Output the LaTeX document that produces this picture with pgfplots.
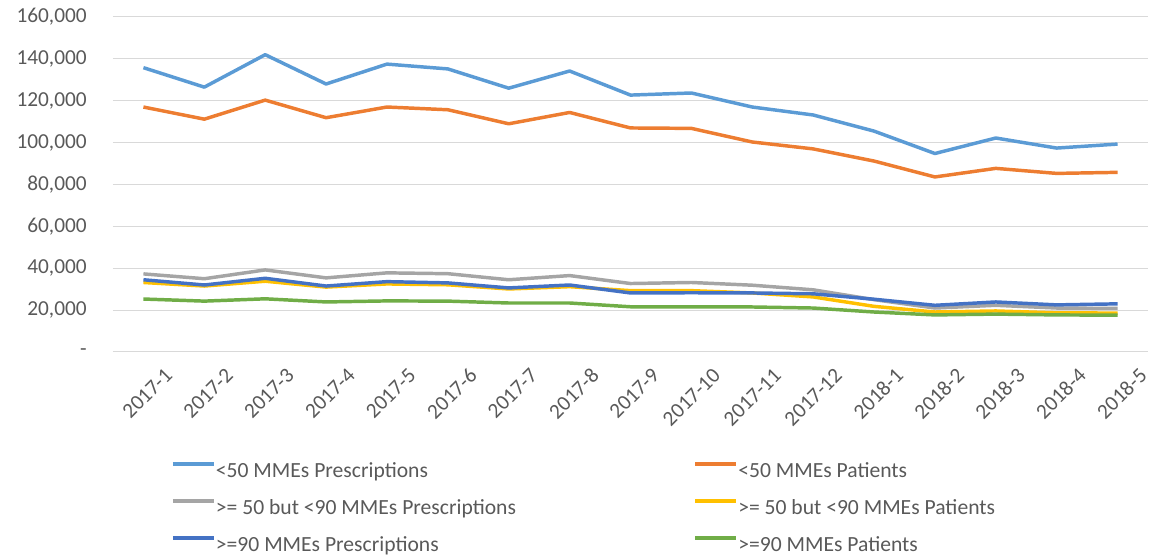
\documentclass[border=0pt]{standalone}
\usepackage{pgfplots}
\pgfplotsset{compat=1.18}
\usepackage{fontspec}
\setmainfont{Carlito}
\definecolor{cA}{HTML}{5B9BD5}
\definecolor{cB}{HTML}{ED7D31}
\definecolor{cC}{HTML}{A5A5A5}
\definecolor{cD}{HTML}{FFC000}
\definecolor{cE}{HTML}{4472C4}
\definecolor{cF}{HTML}{70AD47}
\definecolor{txt}{HTML}{595959}
\definecolor{gridc}{HTML}{D9D9D9}
\begin{document}
\begin{tikzpicture}
\useasboundingbox (-84.75pt,-155.25pt) rectangle (780pt,264pt);
\begin{axis}[
  at={(0,0)}, anchor=south west,
  scale only axis, width=776.25pt, height=251.25pt,
  xmin=-0.5, xmax=16.5, ymin=0, ymax=160000,
  axis line style={draw=none},
  major tick length=0pt,
  scaled y ticks=false,
  ymajorgrids, xmajorgrids=false,
  grid style={draw=gridc, line width=0.75pt},
  ytick={0,20000,40000,60000,80000,100000,120000,140000,160000},
  yticklabels={-,{20,000},{40,000},{60,000},{80,000},{100,000},{120,000},{140,000},{160,000}},
  xtick={0,...,16},
  xticklabels={2017-1,2017-2,2017-3,2017-4,2017-5,2017-6,2017-7,2017-8,2017-9,2017-10,2017-11,2017-12,2018-1,2018-2,2018-3,2018-4,2018-5},
  tick label style={font=\fontsize{16}{19}\selectfont, text=txt},
  yticklabel style={inner sep=0pt, xshift=-19.5pt},
  xticklabel style={rotate=45, anchor=north east, inner sep=0pt, xshift=3pt, yshift=-18.5pt},
  legend columns=2,
  legend cell align=left,
  legend style={draw=none, fill=none, inner sep=0pt, outer sep=0pt,
    at={(axis description cs:0.056,-0.3)}, anchor=north west,
    font=\fontsize{16.2}{19}\selectfont, text=txt,
    nodes={inner sep=0pt, text height=19pt, text depth=8.75pt},
    row sep=0pt,
    /tikz/every even column/.append style={column sep=0pt},
  },
  legend image code/.code={\draw[#1, line width=3pt] (0pt,5pt) -- (30.75pt,5pt);},
  every axis plot/.append style={line width=2.6pt, line join=round},
]
\addplot[cA] coordinates {(0,135800)(1,126500)(2,142000)(3,128000)(4,137500)(5,135200)(6,126000)(7,134200)(8,122700)(9,123700)(10,117000)(11,113200)(12,105500)(13,94800)(14,102200)(15,97400)(16,99300)};
\addlegendentry{\makebox[358pt][l]{<50 MMEs Prescriptions}}
\addplot[cB] coordinates {(0,117000)(1,111200)(2,120300)(3,111900)(4,117000)(5,115700)(6,109000)(7,114400)(8,107000)(9,106800)(10,100300)(11,97000)(12,91200)(13,83600)(14,87700)(15,85300)(16,85800)};
\addlegendentry{<50 MMEs Patients}
\addplot[cC] coordinates {(0,37300)(1,35000)(2,39200)(3,35400)(4,37800)(5,37400)(6,34500)(7,36500)(8,32700)(9,33200)(10,31900)(11,29700)(12,25000)(13,21000)(14,22300)(15,21000)(16,20800)};
\addlegendentry{\makebox[358pt][l]{>= 50 but <90 MMEs Prescriptions}}
\addplot[cD] coordinates {(0,33200)(1,31500)(2,33800)(3,31000)(4,32500)(5,32100)(6,30100)(7,31200)(8,29300)(9,29300)(10,28200)(11,26300)(12,21800)(13,19100)(14,19600)(15,18700)(16,18600)};
\addlegendentry{>= 50 but <90 MMEs Patients}
\addplot[cE] coordinates {(0,34500)(1,32000)(2,35200)(3,31500)(4,33600)(5,33000)(6,30600)(7,32000)(8,28200)(9,28300)(10,28200)(11,27800)(12,25200)(13,22300)(14,23900)(15,22500)(16,23000)};
\addlegendentry{\makebox[358pt][l]{>=90 MMEs Prescriptions}}
\addplot[cF] coordinates {(0,25300)(1,24300)(2,25400)(3,23900)(4,24400)(5,24300)(6,23400)(7,23400)(8,21600)(9,21600)(10,21500)(11,21000)(12,19100)(13,17700)(14,18100)(15,17700)(16,17600)};
\addlegendentry{>=90 MMEs Patients}
\end{axis}
\end{tikzpicture}
\end{document}
